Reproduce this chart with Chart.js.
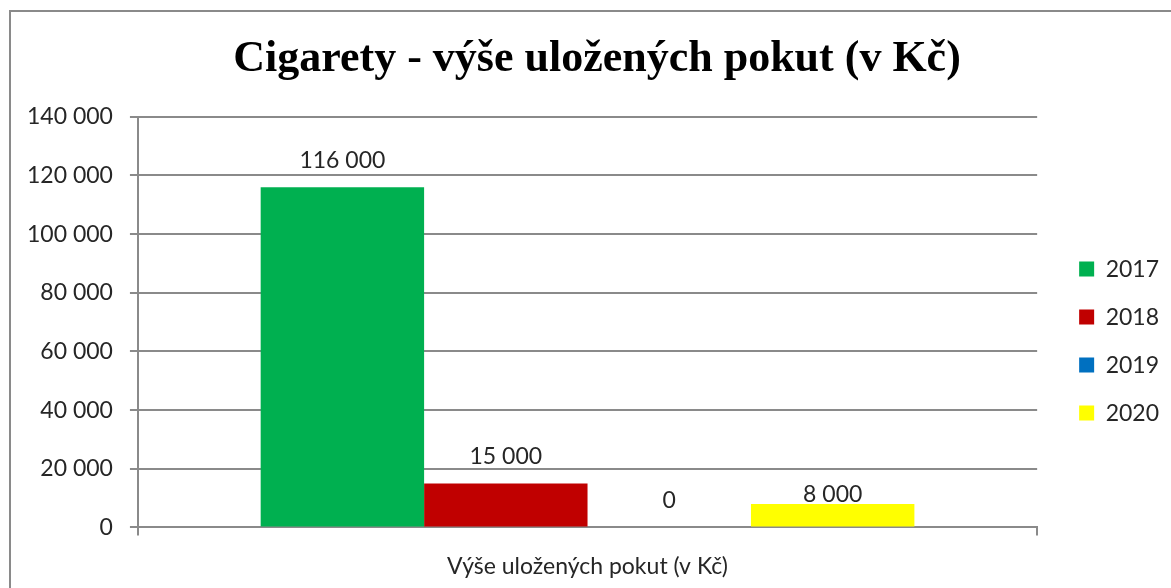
<!DOCTYPE html>
<html>
<head>
<meta charset="utf-8">
<script src="https://cdn.jsdelivr.net/npm/chart.js@4"></script>
<style>
  html, body { margin: 0; padding: 0; background: #fff; }
  #wrap { position: relative; width: 1171px; height: 588px; }
  #frame { position: absolute; left: 9px; top: 10px; right: -5px; bottom: -5px;
           border-top: 2px solid #8a8a8a; border-left: 2px solid #8a8a8a; pointer-events: none; }
</style>
</head>
<body>
<div id="wrap">
  <canvas id="chart" width="1171" height="588"></canvas>
  <div id="frame"></div>
</div>
<script>
var categories = ['Výše uložených pokut (v Kč)'];
var years = ['2017', '2018', '2019', '2020'];
var fines2017 = [116000];
var fines2018 = [15000];
var fines2019 = [0];
var fines2020 = [8000];
var yTicks = [0, 20000, 40000, 60000, 80000, 100000, 120000, 140000];

var gray = '#8a8a8a';
var textColor = '#262626';
var font = 'Lato';

function fmt(v) {
    return String(v).replace(/\B(?=(\d{3})+(?!\d))/g, ' ');
}

// values above bars, like Excel outside-end labels
var barLabels = {
    id: 'barLabels',
    afterDatasetsDraw: function(chart) {
        var ctx = chart.ctx;
        ctx.save();
        ctx.font = '23px ' + font;
        ctx.fillStyle = textColor;
        ctx.textAlign = 'center';
        ctx.textBaseline = 'alphabetic';
        chart.data.datasets.forEach(function(ds, i) {
            var meta = chart.getDatasetMeta(i);
            meta.data.forEach(function(bar, j) {
                var gap = ds.labelGap !== undefined ? ds.labelGap : 19;
                ctx.fillText(fmt(ds.data[j]), bar.x, bar.y - gap);
            });
        });
        ctx.restore();
    }
};

// nudge legend and title to where Excel puts them
var boxShift = {
    id: 'boxShift',
    afterLayout: function(chart) {
        var lg = chart.legend;
        lg.left += 17; lg.right += 17;
        lg.top += 19; lg.bottom += 19;
        var t = chart.titleBlock;
        if (t) { t.left += 16; t.right += 16; }
    }
};

var ctx = document.getElementById('chart').getContext('2d');
var myChart = new Chart(ctx, {
    type: 'bar',
    data: {
        labels: categories,
        datasets: [
            { label: years[0], data: fines2017, backgroundColor: '#00B050' },
            { label: years[1], data: fines2018, backgroundColor: '#C00000' },
            { label: years[2], data: fines2019, backgroundColor: '#0070C0' },
            { label: years[3], data: fines2020, backgroundColor: '#FFFF00', labelGap: 2 }
        ]
    },
    options: {
        responsive: false,
        animation: false,
        layout: { padding: { left: 10, right: 19, top: 0, bottom: -9 } },
        datasets: {
            bar: { categoryPercentage: 0.727, barPercentage: 1.0, borderWidth: 0 }
        },
        plugins: {
            title: {
                display: true,
                text: 'Cigarety - výše uložených pokut (v Kč)',
                color: '#000',
                font: { family: 'Liberation Serif', size: 44, weight: 'bold' },
                padding: { top: 33, bottom: 31 }
            },
            legend: {
                position: 'right',
                fullSize: false,
                labels: {
                    color: textColor,
                    font: { family: font, size: 23 },
                    boxWidth: 15,
                    boxHeight: 15,
                    padding: 25
                }
            },
            tooltip: { enabled: false }
        },
        scales: {
            x: {
                grid: { drawOnChartArea: false, drawTicks: true, tickLength: 8, color: gray, lineWidth: 2 },
                border: { color: gray, width: 2 },
                ticks: { color: textColor, font: { family: font, size: 23 }, padding: 17 }
            },
            y: {
                min: 0,
                max: 140000,
                afterBuildTicks: function(axis) {
                    axis.ticks = yTicks.map(function(v) { return { value: v }; });
                },
                grid: { color: gray, lineWidth: 2, tickLength: 8 },
                border: { color: gray, width: 2 },
                ticks: {
                    color: textColor,
                    font: { family: font, size: 23 },
                    padding: 17,
                    callback: function(v) { return fmt(v); }
                }
            }
        }
    },
    plugins: [barLabels, boxShift]
});
</script>
</body>
</html>
